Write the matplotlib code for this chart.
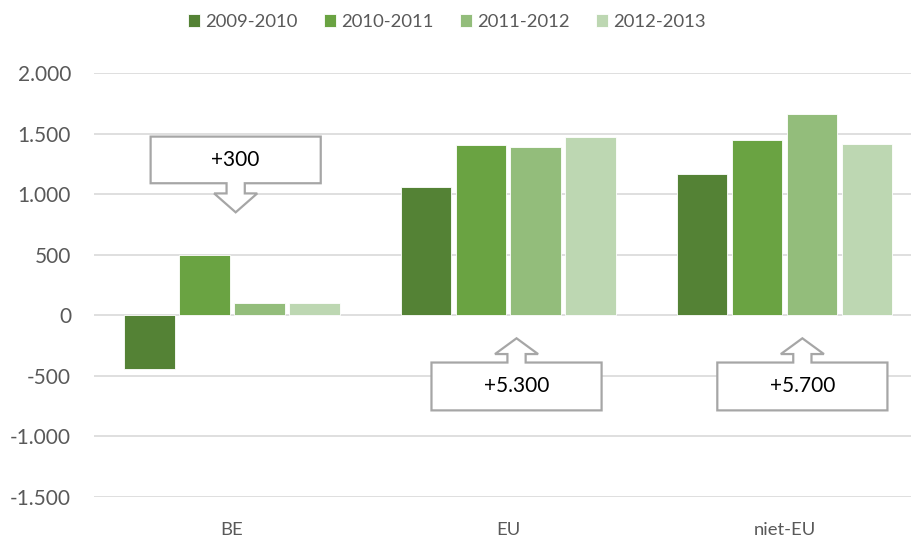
import matplotlib
matplotlib.use("Agg")
import matplotlib.pyplot as plt
from matplotlib.patches import Polygon
from matplotlib.ticker import FuncFormatter
import numpy as np

plt.rcParams['font.family'] = ['Lato', 'DejaVu Sans']

categories = ['BE', 'EU', 'niet-EU']
seasons = ['2009-2010', '2010-2011', '2011-2012', '2012-2013']
values = {
    '2009-2010': [-440, 1060, 1170],
    '2010-2011': [500, 1405, 1445],
    '2011-2012': [100, 1390, 1665],
    '2012-2013': [100, 1475, 1410],
}
colors = ['#548235', '#6AA342', '#93BD7B', '#BDD7B2']

# callouts: text, category index, x offset, box bottom, box top, arrow tip
callouts = [
    ('+300', 0, 0.013, 1090, 1475, 850),
    ('+5.300', 1, 0.03, -785, -390, -190),
    ('+5.700', 2, 0.065, -785, -390, -190),
]

fig = plt.figure(figsize=(9.12, 5.37), dpi=100)
# plot area runs a bit past the right edge of the picture (cropped chart)
ax = fig.add_axes([94/912, 1-497/537, (922.5-94)/912, (497-73)/537])

x = np.arange(len(categories))
step = 0.199
bw = 0.183
for i, s in enumerate(seasons):
    ax.bar(x + (i - 1.5)*step, values[s], width=bw, color=colors[i],
           edgecolor='white', linewidth=0.6, label=s, zorder=3)

ax.set_xlim(-0.5, 2.5)
ax.set_ylim(-1500, 2000)
ax.set_yticks(np.arange(-1500, 2001, 500))
ax.yaxis.set_major_formatter(FuncFormatter(lambda v, p: f"{v:,.0f}".replace(",", ".")))
ax.set_xticks(x)
ax.set_xticklabels(categories)
ax.grid(axis='y', color='#D9D9D9', linewidth=1.2, zorder=0)
for sp in ax.spines.values():
    sp.set_visible(False)
ax.tick_params(axis='both', length=0, labelcolor='#595959')
ax.tick_params(axis='y', pad=16.5, labelsize=15)
ax.tick_params(axis='x', pad=18, labelsize=13.3)

# callout shapes (box + arrow)
half_w = 0.308
shaft = 0.033
head = 0.078
for txt, ci, off, y0, y1, tip in callouts:
    cx = ci + off
    if tip < y0:
        # arrow pointing down, below box
        n = y0 - (y0 - tip)*0.35
        pts = [(cx-half_w, y1), (cx+half_w, y1), (cx+half_w, y0),
               (cx+shaft, y0), (cx+shaft, n), (cx+head, n),
               (cx, tip), (cx-head, n), (cx-shaft, n),
               (cx-shaft, y0), (cx-half_w, y0)]
    else:
        n = y1 + (tip - y1)*0.35
        pts = [(cx-half_w, y0), (cx+half_w, y0), (cx+half_w, y1),
               (cx+shaft, y1), (cx+shaft, n), (cx+head, n),
               (cx, tip), (cx-head, n), (cx-shaft, n),
               (cx-shaft, y1), (cx-half_w, y1)]
    ax.add_patch(Polygon(pts, closed=True, facecolor='white', edgecolor='#A6A6A6',
                         linewidth=1.6, zorder=5))
    ax.text(cx, (y0 + y1)/2, txt, ha='center', va='center', fontsize=15,
            color='black', zorder=6)

fig.legend(loc='upper center', bbox_to_anchor=(0.49, 1.005), ncol=4, frameon=False,
           fontsize=13.3, labelcolor='#595959', handlelength=0.65, handleheight=0.65,
           handletextpad=0.3, columnspacing=1.4)

fig.savefig('out.png', dpi=100)
